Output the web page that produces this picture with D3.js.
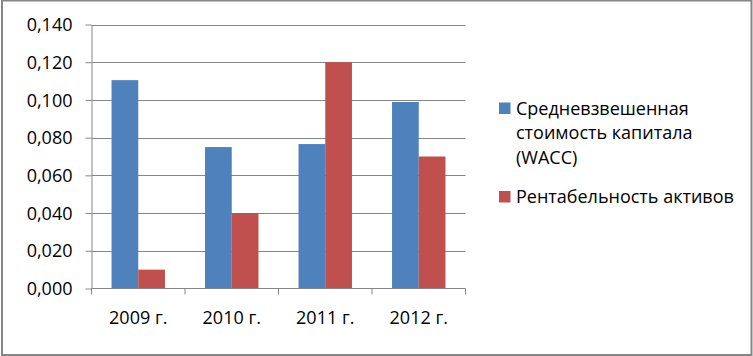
<!DOCTYPE html>
<html><head><meta charset="utf-8">
<script src="https://cdn.jsdelivr.net/npm/d3@7"></script>
<style>
html,body{margin:0;padding:0;background:#fff;}
text{font-family:"Open Sans",sans-serif;font-size:18px;fill:#000;}
</style></head>
<body><svg id="c" width="753" height="356"></svg>
<script>
const categories = ["2009 г.", "2010 г.", "2011 г.", "2012 г."];
const seriesNames = ["Средневзвешенная стоимость капитала (WACC)", "Рентабельность активов"];
const waccValues = [0.1105, 0.075, 0.0766, 0.0989];
const roaValues = [0.010, 0.040, 0.120, 0.070];
const yTicks = [0, 0.02, 0.04, 0.06, 0.08, 0.10, 0.12, 0.14];
const colors = ["#4F81BD", "#C0504D"];

(function () {
const svg = d3.select("#c");
svg.append("rect").attr("x", 2).attr("y", 0.5).attr("width", 749.5).attr("height", 354.5)
  .attr("fill", "#fff").attr("stroke", "#868686").attr("stroke-width", 2);

const pLeft = 91.5, pRight = 465.5, pTop = 24.5, pBottom = 288.5;
const x0 = d3.scaleBand().domain(categories).range([pLeft, pRight]).padding(0);
const x1 = d3.scaleBand().domain([0, 1]).range([0, x0.bandwidth()]).paddingInner(0).paddingOuter(0.75);
const y = d3.scaleLinear().domain([0, 0.14]).range([pBottom, pTop]);
const fmt = v => d3.format(".3f")(v).replace(".", ",");

svg.append("g").selectAll("line").data(yTicks.slice(1)).join("line")
  .attr("x1", pLeft).attr("x2", pRight).attr("y1", d => Math.round(y(d)) + 0.5).attr("y2", d => Math.round(y(d)) + 0.5)
  .attr("stroke", "#868686").attr("stroke-width", 1);

const data = categories.map((c, i) => ({c, vals: [waccValues[i], roaValues[i]]}));
const g = svg.append("g").selectAll("g").data(data).join("g")
  .attr("transform", d => `translate(${x0(d.c)},0)`);
g.selectAll("rect").data(d => d.vals.map((v, k) => ({v, k}))).join("rect")
  .attr("x", d => x1(d.k)).attr("width", x1.bandwidth())
  .attr("y", d => y(d.v)).attr("height", d => y(0) - y(d.v))
  .attr("fill", d => colors[d.k]);

const ya = svg.append("g").attr("transform", `translate(${pLeft},0)`)
  .call(d3.axisLeft(y).tickValues(yTicks).tickFormat(fmt).tickSizeInner(6).tickSizeOuter(0).tickPadding(13));
ya.attr("font-size", null).attr("font-family", null);
ya.select(".domain").attr("stroke", "#868686");
ya.selectAll(".tick line").attr("stroke", "#868686");
ya.selectAll("text").attr("fill", "#000").attr("dy", "0.34em");

const xa = svg.append("g").attr("transform", `translate(0,${pBottom})`)
  .call(d3.axisBottom(x0).tickSize(0).tickPadding(30));
xa.attr("font-size", null).attr("font-family", null);
xa.select(".domain").remove();
xa.selectAll("text").attr("fill", "#000").attr("dy", "0.32em");
svg.append("line").attr("x1", pLeft).attr("x2", pRight).attr("y1", pBottom).attr("y2", pBottom).attr("stroke", "#868686");
const bounds = categories.map(c => x0(c)).concat([pRight]);
svg.append("g").selectAll("line").data(bounds).join("line")
  .attr("x1", d => d).attr("x2", d => d).attr("y1", pBottom).attr("y2", pBottom + 6).attr("stroke", "#868686");

const legLines = [["Средневзвешенная", "стоимость капитала", "(WACC)"], ["Рентабельность активов"]];
const legBase = [114.5, 203];
legLines.forEach((lines, k) => {
  svg.append("rect").attr("x", 499).attr("y", legBase[k] - 12).attr("width", 11.5).attr("height", 11.5).attr("fill", colors[k]);
  lines.forEach((t, j) => svg.append("text").attr("x", 516).attr("y", legBase[k] + j * 24.5).text(t));
});
})();
</script></body></html>
